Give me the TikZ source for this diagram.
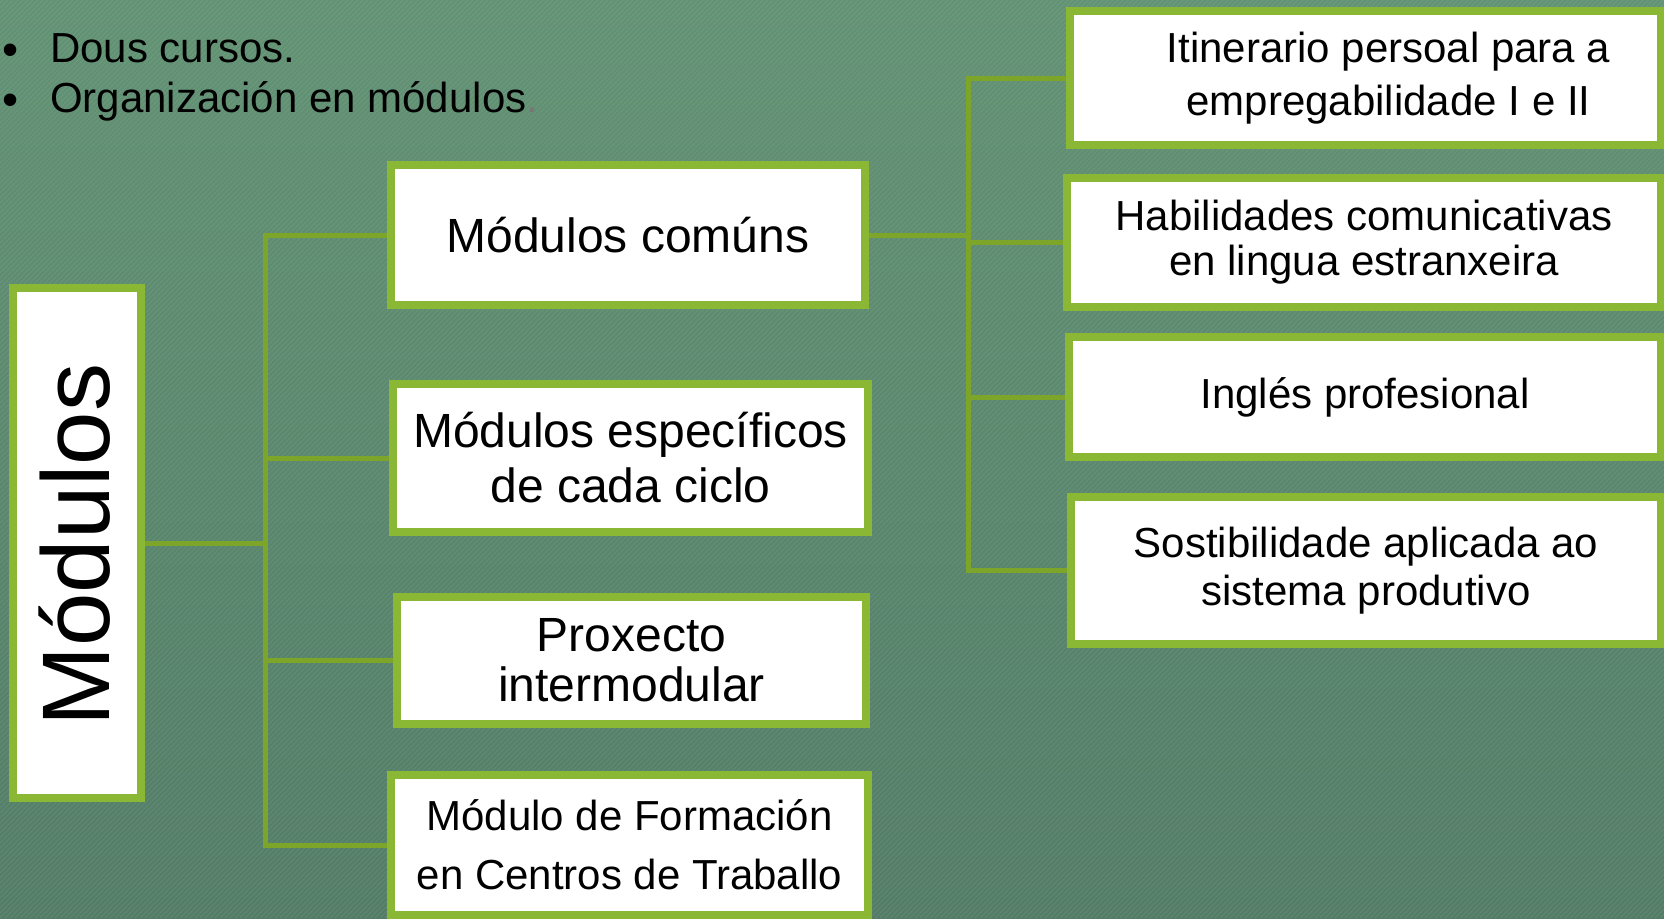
\documentclass[tikz,border=0pt]{standalone}
\usepackage{fontspec}
\setmainfont{Liberation Sans}
\usetikzlibrary{shadows}
\definecolor{bgtop}{RGB}{98,146,116}
\definecolor{bgbot}{RGB}{82,124,102}
\definecolor{boxborder}{RGB}{138,184,52}
\definecolor{connline}{RGB}{124,165,42}
\definecolor{dotgray}{RGB}{118,118,118}
\tikzset{
  modbox/.style={draw=boxborder, line width=8pt, fill=white, inner sep=0pt,
    align=center, text=black,
    drop shadow={shadow xshift=2pt, shadow yshift=-3pt, opacity=0.35, fill=black}},
  conn/.style={draw=connline, line width=5pt},
  bigtxt/.style={font=\fontsize{48}{55}\selectfont},
  midtxt/.style={font=\fontsize{42}{45}\selectfont},
  bullettxt/.style={font=\fontsize{42}{50}\selectfont, text=black, inner sep=0pt}
}
\begin{document}
\begin{tikzpicture}[x=1pt,y=-1pt]
\useasboundingbox (0,0) rectangle (1664,918);
% background
\shade[top color=bgtop, bottom color=bgbot] (0,0) rectangle (1664,918);
\begin{scope}
\clip (0,0) rectangle (1664,918);
\foreach \i in {-920,-915,...,1670} {
  \draw[white, opacity=0.07, line width=1.3pt] (\i,918) -- (\i+918,0);
}
\end{scope}

% bullets
\node[bullettxt, anchor=base west] (l1) at (50,62) {Dous cursos.};
\node[bullettxt, anchor=base west] (l2) at (50,112) {Organización en módulos{\color{dotgray}.}};
\node[bullettxt, anchor=base west, font=\fontsize{46}{46}\selectfont] (d1) at (2,65) {•};
\node[bullettxt, anchor=base west, font=\fontsize{46}{46}\selectfont] (d2) at (2,115) {•};

% junction coordinates
\coordinate (jl) at (265,0);
\coordinate (jr) at (968,0);

% left root
\node[modbox, minimum width=128pt, minimum height=510pt] (mod) at (77,543) {};
\node[anchor=base, rotate=90, font=\fontsize{96}{96}\selectfont, inner sep=0pt] (modtxt) at (109,545) {Módulos};

% middle column
\node[modbox, bigtxt, minimum width=474pt, minimum height=140pt] (com) at (628,235) {Módulos comúns};
\node[modbox, bigtxt, minimum width=475pt, minimum height=148pt] (esp) at (630.5,458) {Módulos específicos\\de cada ciclo};
\node[modbox, font=\fontsize{48}{50}\selectfont, minimum width=469pt, minimum height=127pt] (pro) at (631.5,660.5) {Proxecto\\intermodular};
\node[modbox, font=\fontsize{42}{59}\selectfont, minimum width=477pt, minimum height=140pt] (fct) at (629.5,845) {Módulo de Formación\\en Centros de Traballo};

% right column
\node[modbox, font=\fontsize{42}{53}\selectfont, minimum width=591pt, minimum height=134pt] (iti) at (1365.5,78) {\hspace*{46pt}Itinerario persoal para a\\\hspace*{46pt}empregabilidade I e II};
\node[modbox, midtxt, minimum width=594pt, minimum height=129pt] (hab) at (1364,242.5) {Habilidades comunicativas\\en lingua estranxeira};
\node[modbox, midtxt, minimum width=592pt, minimum height=120pt] (ing) at (1365,397) {Inglés profesional};
\node[modbox, font=\fontsize{42}{48}\selectfont, minimum width=590pt, minimum height=147pt] (sos) at (1366,570.5) {Sostibilidade aplicada ao\\sistema produtivo};

% connectors
\draw[conn] (mod.east) -- (mod.east -| jl) |- (com.west);
\draw[conn] (mod.east) -- (mod.east -| jl) |- (esp.west);
\draw[conn] (mod.east) -- (mod.east -| jl) |- (pro.west);
\draw[conn] (mod.east) -- (mod.east -| jl) |- (fct.west);
\draw[conn] (com.east) -- (com.east -| jr) |- (iti.west);
\draw[conn] (com.east) -- (com.east -| jr) |- (hab.west);
\draw[conn] (com.east) -- (com.east -| jr) |- (ing.west);
\draw[conn] (com.east) -- (com.east -| jr) |- (sos.west);
\end{tikzpicture}
\end{document}
